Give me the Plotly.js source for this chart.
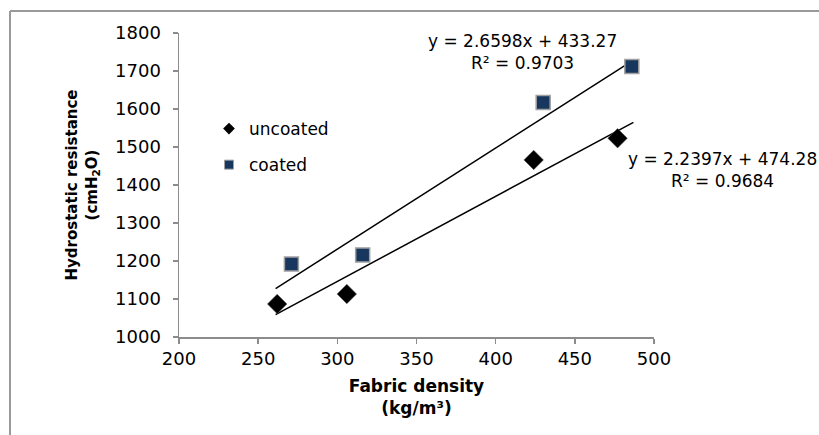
<!DOCTYPE html>
<html>
<head>
<meta charset="utf-8">
<script src="https://cdn.plot.ly/plotly-3.0.1.min.js"></script>
<style>html,body{margin:0;padding:0;background:#fff;}#chart{width:819px;height:435px;}</style>
</head>
<body>
<div id="chart"></div>
<script>
// Data
const uncoatedX = [262, 306, 424, 477];
const uncoatedY = [1087, 1113, 1466, 1523];
const coatedX = [271, 316, 430, 486];
const coatedY = [1192, 1216, 1617, 1712];
// Trendline coefficients as printed on the chart
const coatedSlope = 2.6598, coatedIntercept = 433.27;
const uncoatedSlope = 2.2397, uncoatedIntercept = 474.28;
const trendRange = [261, 487];
const xTicks = [200, 250, 300, 350, 400, 450, 500];
const yTicks = [1000, 1100, 1200, 1300, 1400, 1500, 1600, 1700, 1800];

const FONT = 'DejaVu Sans, Liberation Sans, Arial, sans-serif';

const traces = [
  {
    x: trendRange, y: trendRange.map(v => coatedSlope * v + coatedIntercept),
    mode: 'lines', line: {color: '#000', width: 1.5}, showlegend: false, hoverinfo: 'skip'
  },
  {
    x: trendRange, y: trendRange.map(v => uncoatedSlope * v + uncoatedIntercept),
    mode: 'lines', line: {color: '#000', width: 1.5}, showlegend: false, hoverinfo: 'skip'
  },
  {
    x: uncoatedX, y: uncoatedY, mode: 'markers', name: 'uncoated', showlegend: false,
    marker: {symbol: 'diamond', size: 15, color: '#000', line: {color: '#555', width: 0.5}}
  },
  {
    x: coatedX, y: coatedY, mode: 'markers', name: 'coated', showlegend: false,
    marker: {symbol: 'square', size: 14, color: '#17375e', line: {color: '#a0a0a0', width: 1.5}}
  },
  // legend entries (smaller symbols as in the reference legend)
  {
    x: [null], y: [null], mode: 'markers', name: 'uncoated', legendgroup: 'u',
    marker: {symbol: 'diamond', size: 9, color: '#000'}
  },
  {
    x: [null], y: [null], mode: 'markers', name: 'coated', legendgroup: 'c',
    marker: {symbol: 'square', size: 9, color: '#17375e', line: {color: '#a0a0a0', width: 1}}
  }
];

const L = 179, R = 654, T = 33, B = 337;
const px2x = p => (p - L) / (R - L);
const py2y = p => 1 - (p - T) / (B - T);

const layout = {
  width: 819, height: 435,
  margin: {l: L, r: 819 - R, t: T, b: 435 - B, pad: 0},
  paper_bgcolor: '#fff', plot_bgcolor: '#fff',
  font: {family: FONT, size: 17, color: '#000'},
  showlegend: true,
  legend: {
    x: px2x(209), y: py2y(111), xanchor: 'left', yanchor: 'top',
    bgcolor: 'rgba(0,0,0,0)', font: {family: FONT, size: 17, color: '#000'},
    itemwidth: 30, tracegroupgap: 11
  },
  xaxis: {
    range: [200, 500], tickvals: xTicks, ticktext: xTicks.map(String),
    showgrid: false, zeroline: false, showline: true, linecolor: '#8c8c8c', linewidth: 1.5,
    ticks: 'outside', ticklen: 5, tickcolor: '#8c8c8c', tickwidth: 1.5,
    tickfont: {family: FONT, size: 18, color: '#000'},
    title: {text: '<b>Fabric density</b><br><b>(kg/m³)</b>', font: {family: FONT, size: 17, color: '#000'}, standoff: 12}
  },
  yaxis: {
    range: [1000, 1800], tickvals: yTicks, ticktext: yTicks.map(String),
    showgrid: false, zeroline: false, showline: true, linecolor: '#8c8c8c', linewidth: 1.5,
    ticks: 'outside', ticklen: 5, tickcolor: '#8c8c8c', tickwidth: 1.5,
    ticklabelstandoff: 8,
    tickfont: {family: FONT, size: 18, color: '#000'},
    title: {text: '<b>Hydrostatic resistance</b><br><b>(cmH<sub>2</sub>O)</b>', font: {family: FONT, size: 15, color: '#000'}, standoff: 14}
  },
  annotations: [
    {xref: 'paper', yref: 'paper', x: px2x(522), y: py2y(52), xanchor: 'center', yanchor: 'middle',
     text: 'y = 2.6598x + 433.27<br>R² = 0.9703', showarrow: false, align: 'center',
     font: {family: FONT, size: 17, color: '#000'}},
    {xref: 'paper', yref: 'paper', x: px2x(722), y: py2y(170), xanchor: 'center', yanchor: 'middle',
     text: 'y = 2.2397x + 474.28<br>R² = 0.9684', showarrow: false, align: 'center',
     font: {family: FONT, size: 17, color: '#000'}}
  ],
  shapes: [
    {type: 'line', xref: 'paper', yref: 'paper', x0: px2x(10), x1: px2x(10), y0: py2y(11), y1: py2y(440),
     line: {color: '#9a9a9a', width: 2}},
    {type: 'line', xref: 'paper', yref: 'paper', x0: px2x(10), x1: px2x(830), y0: py2y(11), y1: py2y(11),
     line: {color: '#9a9a9a', width: 2}}
  ]
};

Plotly.newPlot('chart', traces, layout, {displayModeBar: false, staticPlot: true});
</script>
</body>
</html>
